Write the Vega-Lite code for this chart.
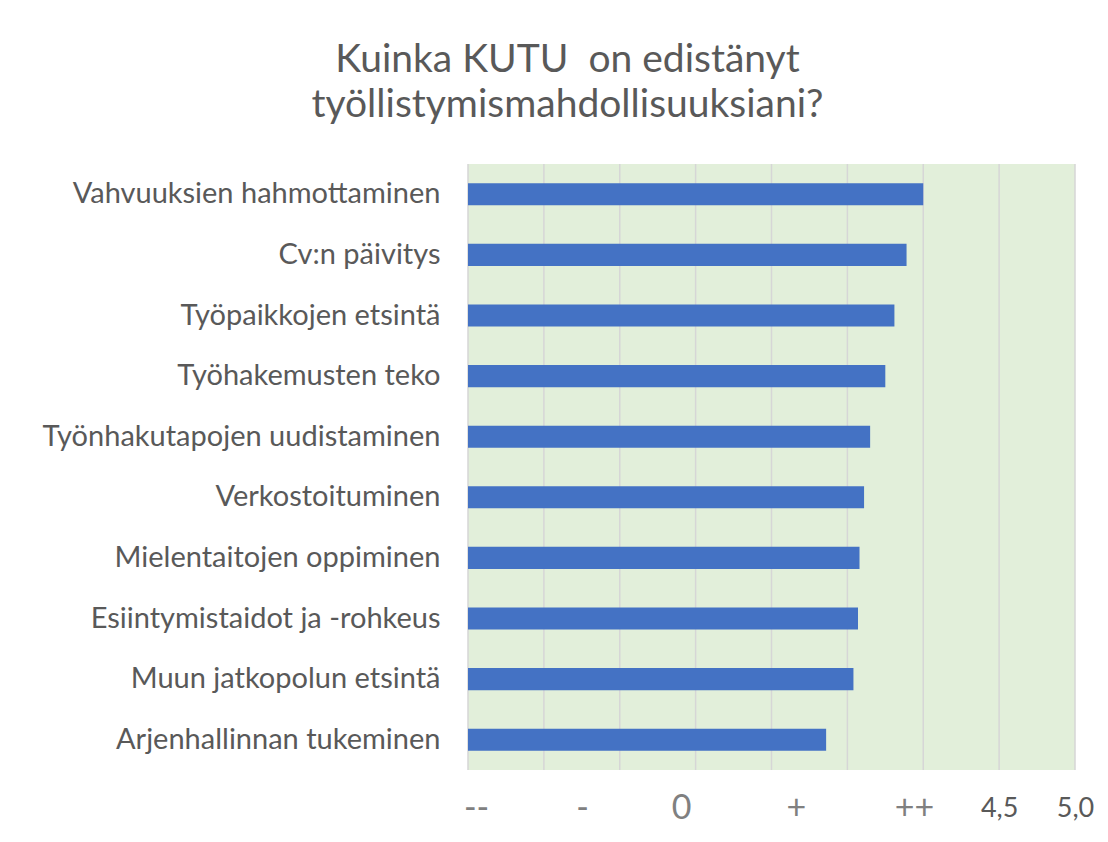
{
  "$schema": "https://vega.github.io/schema/vega-lite/v6.json",
  "width": 607,
  "height": 606,
  "autosize": {"type": "none"},
  "padding": {"left": 468, "top": 164, "right": 33, "bottom": 72},
  "background": "white",
  "title": {
    "text": ["Kuinka KUTU\u00a0 on edistänyt", "työllistymismahdollisuuksiani?"],
    "anchor": "middle",
    "dx": -204,
    "font": "Lato",
    "fontSize": 39,
    "fontWeight": "normal",
    "color": "#595959",
    "lineHeight": 45,
    "offset": 38
  },
  "config": {
    "view": {"fill": "#E2EFDA", "stroke": null},
    "font": "Lato"
  },
  "datasets": {
    "scores": [
      {"item": "Vahvuuksien hahmottaminen", "value": 4.00},
      {"item": "Cv:n päivitys", "value": 3.89},
      {"item": "Työpaikkojen etsintä", "value": 3.81},
      {"item": "Työhakemusten teko", "value": 3.75},
      {"item": "Työnhakutapojen uudistaminen", "value": 3.65},
      {"item": "Verkostoituminen", "value": 3.61},
      {"item": "Mielentaitojen oppiminen", "value": 3.58},
      {"item": "Esiintymistaidot ja -rohkeus", "value": 3.57},
      {"item": "Muun jatkopolun etsintä", "value": 3.54},
      {"item": "Arjenhallinnan tukeminen", "value": 3.36}
    ],
    "grid": [
      {"g": 1.0}, {"g": 1.5}, {"g": 2.0}, {"g": 2.5}, {"g": 3.0},
      {"g": 3.5}, {"g": 4.0}, {"g": 4.5}, {"g": 5.0}
    ]
  },
  "layer": [
    {
      "data": {"name": "grid"},
      "mark": {"type": "rule", "color": "#D6D6D6", "strokeWidth": 1.5},
      "encoding": {
        "x": {"field": "g", "type": "quantitative", "scale": {"domain": [1, 5], "nice": false, "zero": false}}
      }
    },
    {
      "data": {"name": "scores"},
      "mark": {"type": "bar", "color": "#4472C4"},
      "encoding": {
        "y": {
          "field": "item",
          "type": "nominal",
          "sort": null,
          "scale": {"paddingInner": 0.636, "paddingOuter": 0.318},
          "axis": {
            "title": null,
            "domain": false,
            "ticks": false,
            "labelPadding": 28,
            "labelLimit": 600,
            "labelFont": "Lato",
            "labelFontSize": 29,
            "labelColor": "#595959"
          }
        },
        "x2": {"datum": 1},
        "x": {
          "field": "value",
          "type": "quantitative",
          "scale": {"domain": [1, 5], "nice": false, "zero": false},
          "axis": {
            "title": null,
            "grid": false,
            "domain": false,
            "ticks": false,
            "values": [1.053, 1.751, 2.404, 3.161, 3.939, 4.5, 5],
            "labelExpr": "datum.value < 1.2 ? '--' : datum.value < 2 ? '-' : datum.value < 3 ? '0' : datum.value < 3.5 ? '+' : datum.value < 4.2 ? '++' : datum.value < 4.8 ? '4,5' : '5,0'",
            "labelBaseline": "middle",
            "labelPadding": 38,
            "labelFont": "Lato",
            "labelFontSize": {"condition": {"test": "datum.value < 4.2", "value": 34}, "value": 27},
            "labelColor": {"condition": {"test": "datum.value > 4.2", "value": "#595959"}, "value": "#808080"},
            "labelFlush": false,
            "labelOverlap": false
          }
        }
      }
    }
  ]
}
